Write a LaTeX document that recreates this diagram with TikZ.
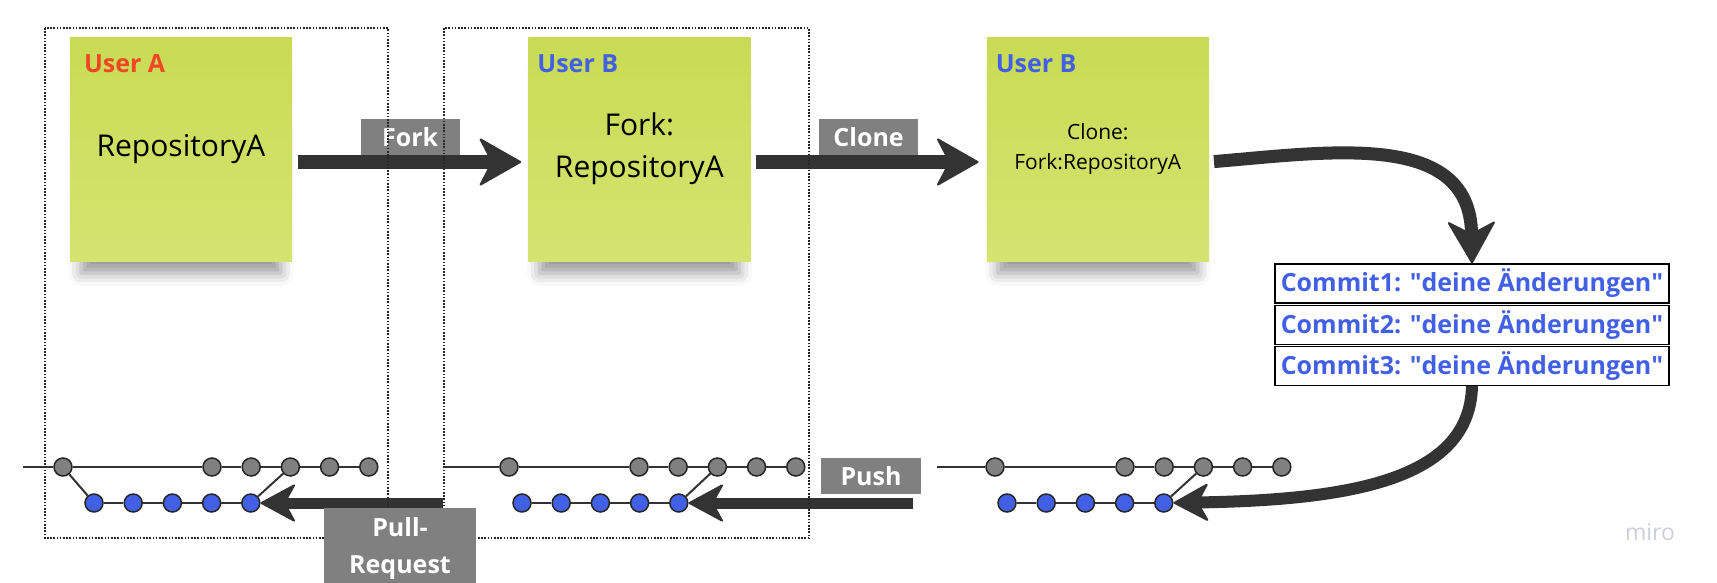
\documentclass[tikz,border=0pt]{standalone}
\usepackage{fontspec}
\setmainfont{Open Sans}
\usetikzlibrary{arrows.meta, positioning, shadows.blur}
\definecolor{postittop}{RGB}{201,219,84}
\definecolor{postitbottom}{RGB}{211,228,112}
\definecolor{userred}{RGB}{242,71,38}
\definecolor{userblue}{RGB}{66,96,230}
\definecolor{arrowgray}{RGB}{51,51,51}
\definecolor{boxgray}{RGB}{128,128,128}
\definecolor{mirogray}{RGB}{205,205,220}
\tikzstyle{postit}=[top color=postittop, bottom color=postitbottom, minimum width=222pt, minimum height=224pt, align=center, font=\fontsize{30}{42}\selectfont, blur shadow={shadow xshift=0pt, shadow yshift=-26pt, shadow scale=0.9, shadow blur radius=14pt, shadow opacity=40}]
\tikzstyle{user}=[anchor=north west, inner sep=0pt, font=\bfseries\fontsize{25}{30}\selectfont]
\tikzstyle{action}=[fill=boxgray, text=white, minimum width=99pt, minimum height=36pt, inner sep=0pt, outer sep=0pt, align=center, font=\bfseries\fontsize{25}{37}\selectfont]
\tikzstyle{commit}=[draw=black, line width=1.2pt, fill=white, text=userblue, minimum width=394pt, minimum height=39pt, inner sep=0pt, font=\bfseries\fontsize{25}{30}\selectfont]
\tikzstyle{old}=[circle, fill=boxgray, draw=black!85, line width=1.5pt, minimum size=18pt, inner sep=0pt]
\tikzstyle{new}=[old, fill=userblue]
\tikzstyle{branch}=[draw=arrowgray, line width=2pt]
\tikzstyle{frame}=[draw=black!85, line width=1.6pt, dash pattern=on 1.6pt off 1.6pt]
\tikzstyle{flow}=[draw=arrowgray, line width=14pt, -{Stealth[round, line width=2pt, length=44pt, width=50pt, inset=13pt]}]
\tikzstyle{back}=[draw=arrowgray, line width=11pt, -{Stealth[round, line width=2pt, length=37pt, width=40pt, inset=11pt]}]
\newcommand{\change}[1]{Commit#1: \textquotedbl deine Änderungen\textquotedbl}

\begin{document}
\begin{tikzpicture}[x=1pt, y=-1pt, node distance=236pt]
    \clip (0,0) rectangle (1717,582);
    \node[postit] (A) at (181,149) {RepositoryA};
    \node[postit, right=of A] (B) {Fork:\\RepositoryA};
    \node[postit, right=of B, font=\fontsize{21}{30}\selectfont] (C) {Clone:\\Fork:RepositoryA};
    \node[user, text=userred, xshift=14pt, yshift=-18pt] (ua) at (A.north west) {User A};
    \node[user, text=userblue, xshift=9pt, yshift=-18pt] (ub) at (B.north west) {User B};
    \node[user, text=userblue, xshift=9pt, yshift=-18pt] (uc) at (C.north west) {User B};

    \node[commit] (c1) at (1472,283.5) {\change{1}};
    \node[commit, below=1pt of c1] (c2) {\change{2}};
    \node[commit, below=1pt of c2] (c3) {\change{3}};

    \foreach \n/\xs/\xf/\xr/\xb in {1/23/63/212/94, 2/444/509/639/522, 3/937/995/1125/1007} {
      \coordinate (s\n) at (\xs,467);
      \node[old] (g\n0) at (\xf,467) {};
      \foreach \i in {1,...,5} {
        \node[old] (g\n\i) at ({\xr+39.2*(\i-1)},467) {};
        \node[new] (b\n\i) at ({\xb+39.2*(\i-1)},503) {};
      }
      \draw[branch] (s\n) -- (g\n0) -- (g\n1) -- (g\n2) -- (g\n3) -- (g\n4) -- (g\n5);
      \draw[branch] (b\n1) -- (b\n2) -- (b\n3) -- (b\n4) -- (b\n5);
      \draw[branch] (g\n3) -- (b\n5);
    }
    \draw[branch] (g10) -- (b11);

    \draw[flow, shorten <=6pt, shorten >=7pt] ([yshift=-13pt]A.east) -- node[action, above=7pt] (fork) {Fork} ([yshift=-13pt]B.west);
    \draw[flow, shorten <=5pt, shorten >=8pt] ([yshift=-13pt]B.east) -- node[action, above=7pt] (clone) {Clone} ([yshift=-13pt]C.west);
    \draw[flow, line width=13pt, shorten <=5pt] ([yshift=-13pt]C.east) .. controls (1330,152) and (1470,130) .. (c1.north);
    \draw[back, line width=12pt] (c3.south) .. controls (1470,480) and (1350,500) .. (b35);

    \node[action, minimum width=100pt] (push) at (871,476) {Push};
    \coordinate (pushfrom) at (913,503);
    \draw[back] (pushfrom) -- (b25);
    \coordinate (pullfrom) at (443,503);
    \draw[back] (pullfrom) -- (b15);

    \draw[frame] (45,28) rectangle (388,538);
    \draw[frame] (444,28) rectangle (809,538);

    \node[action, minimum width=152pt, minimum height=80pt] (pull) at (400,548) {Pull-\\Request};
    \node[text=mirogray, font=\fontsize{23}{28}\selectfont] (logo) at (1650,532) {miro};
\end{tikzpicture}
\end{document}
